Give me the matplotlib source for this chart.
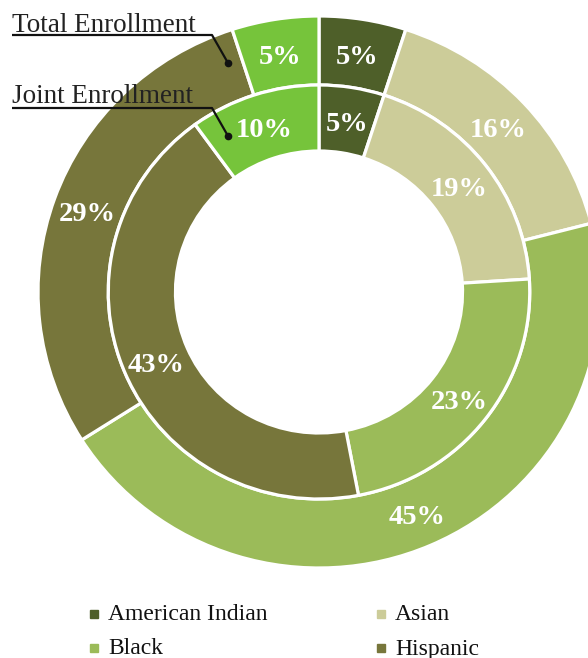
import matplotlib
matplotlib.use("Agg")
import matplotlib.pyplot as plt

categories = ["American Indian", "Asian", "Black", "Hispanic", "Other"]
total_enrollment = [5, 16, 45, 29, 5]
joint_enrollment = [5, 19, 23, 43, 10]
legend_labels = ["American Indian", "Asian", "Black", "Hispanic"]
colors = ["#4e5f29", "#cccc99", "#9bbb59", "#77763b", "#76c43b"]

W, H = 588, 658
fig = plt.figure(figsize=(W / 100, H / 100), dpi=100)
ax = fig.add_axes([0, 0, 1, 1])
serif = ["Liberation Serif", "DejaVu Serif"]

sx = 1.018  # slight horizontal stretch seen in the reference
cx, cy = 319 / sx, H - 292
R_out, R_mid, R_in = 276, 207, 141

wp = dict(edgecolor="white", linewidth=2.3)
tp = dict(color="white", fontsize=20.5, fontweight="bold", family=serif)

_, _, at1 = ax.pie(total_enrollment, radius=R_out, center=(cx, cy), startangle=90,
                   counterclock=False, colors=colors,
                   wedgeprops=dict(width=R_out - R_mid, **wp),
                   autopct=lambda p: f"{p:.0f}%", pctdistance=(R_out + R_mid) / 2 / R_out,
                   textprops=tp, frame=True)
_, _, at2 = ax.pie(joint_enrollment, radius=R_mid, center=(cx, cy), startangle=90,
                   counterclock=False, colors=colors,
                   wedgeprops=dict(width=R_mid - R_in, **wp),
                   autopct=lambda p: f"{p:.0f}%", pctdistance=(R_mid + R_in) / 2 / R_mid,
                   textprops=tp, frame=True)
for t in list(at1) + list(at2):
    x, y = t.get_position()
    t.set_position((x, y - 4))

ax.set_aspect("auto")
ax.set_xlim(0, W / sx)
ax.set_ylim(0, H)
ax.axis("off")

# overlay in pixel coordinates for annotations and legend
ov = fig.add_axes([0, 0, 1, 1])
ov.set_xlim(0, W)
ov.set_ylim(H, 0)
ov.axis("off")

ann = [("Total Enrollment", 32, 35, (228, 63)), ("Joint Enrollment", 103, 108, (228, 136))]
for txt, ty, ly, (dx, dy) in ann:
    ov.text(12, ty, txt, fontsize=19.5, family=serif, color="#222222",
            ha="left", va="baseline")
    ov.plot([12, 212, dx], [ly, ly, dy], color="#111111", lw=1.6,
            solid_capstyle="butt")
    ov.plot([dx], [dy], "o", color="#111111", ms=4.5)

leg_pos = [(94, 614), (381, 614), (94, 648), (381, 648)]
for lab, (lx, ly) in zip(legend_labels, leg_pos):
    col = colors[categories.index(lab)]
    ov.plot([lx], [ly], "s", color=col, ms=5.5, clip_on=False)
    ov.text(lx + 14, ly + 1, lab, fontsize=17, family=serif, color="#111111",
            ha="left", va="center")

fig.savefig("out.png", dpi=100)
